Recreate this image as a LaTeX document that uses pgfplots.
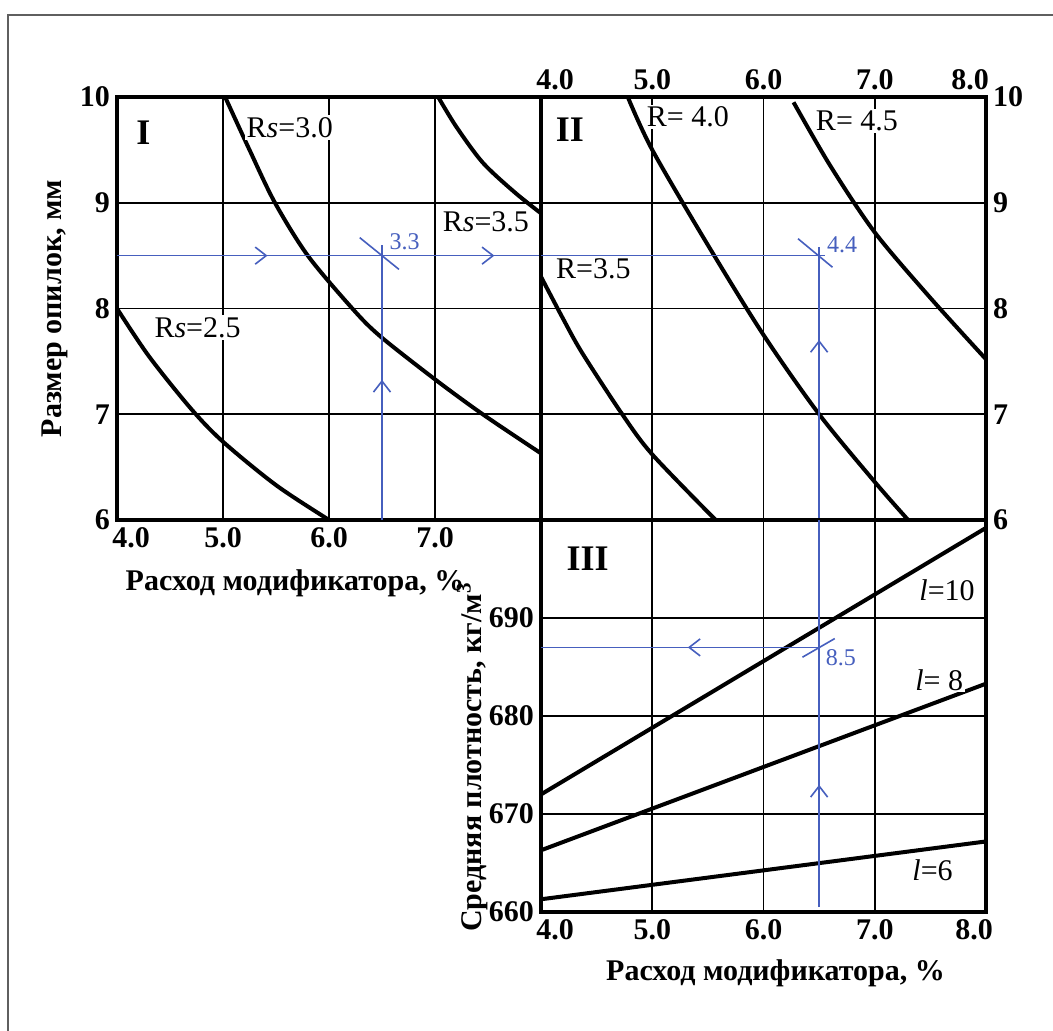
\documentclass[border=0pt]{standalone}
\usepackage{pgfplots}
\pgfplotsset{compat=1.18}
\usepackage{fontspec}
\setmainfont{Liberation Serif}
\usetikzlibrary{decorations.markings,arrows.meta}

\definecolor{nblue}{RGB}{70,95,190}
\definecolor{fgray}{RGB}{95,95,95}

\newcommand\tickf{\fontsize{15}{17}\selectfont\bfseries}
\newcommand\labf{\fontsize{15}{17}\selectfont\bfseries}
\newcommand\curvf{\fontsize{15}{17}\selectfont}
\newcommand\romf{\fontsize{18}{20}\selectfont\bfseries}
\newcommand\bluef{\fontsize{12}{14}\selectfont}

\tikzset{
  lab/.style={font=\curvf, fill=white, inner sep=1pt},
  bl/.style={font=\bluef, text=nblue, inner sep=1pt},
}
\pgfplotsset{
  panel/.style={
    scale only axis, enlargelimits=false,
    axis line style={line width=2.4pt},
    grid=major, major grid style={black, line width=0.9pt},
    major tick length=0pt, tick style={draw=none},
    ticklabel style={font=\tickf},
  },
  curve/.style={black, line width=2pt, smooth, tension=0.5, no markers},
  guide/.style={nblue, line width=0.8pt, no markers},
  barb/.style={postaction={decorate}, decoration={markings, mark=at position #1 with {\arrow[nblue]{Straight Barb[length=5.5pt,width=8.5pt,line width=0.8pt]}}}},
  barbb/.style 2 args={postaction={decorate}, decoration={markings, mark=at position #1 with {\arrow[nblue]{Straight Barb[length=5.5pt,width=8.5pt,line width=0.8pt]}}, mark=at position #2 with {\arrow[nblue]{Straight Barb[length=5.5pt,width=8.5pt,line width=0.8pt]}}}},
}

\begin{document}
\begin{tikzpicture}
\path[use as bounding box] (0,0) rectangle (526.5pt,515pt);
\fill[white] (0,0) rectangle (526.5pt,515pt);
\draw[fgray, line width=0.8pt] (4pt,-1pt) -- (4pt,507.5pt) -- (528pt,507.5pt);

% ---------------- Panel I ----------------
\begin{axis}[panel, at={(58.5pt,255pt)}, anchor=south west, width=212pt, height=211.5pt,
  xmin=4, xmax=8, ymin=6, ymax=10,
  xtick={4,5,6,7,8}, xticklabels={\hspace*{14pt}4.0,5.0,6.0,7.0,{}},
  ytick={6,7,8,9,10}, yticklabels={6,7,8,9,10},
  xlabel={Расход модификатора, \%}, ylabel={Размер опилок, мм},
  xlabel style={at={(axis description cs:0.42,-0.149)}, anchor=center, font=\labf},
  ylabel style={at={(axis description cs:-0.146,0.5)}, anchor=center, font=\labf},
]
\addplot[curve] coordinates {(4.0,8.0) (4.3,7.55) (4.7,7.05) (5.0,6.74) (5.5,6.33) (6.0,6.0) (6.05,5.97)};
\addplot[curve] coordinates {(5.02,10.0) (5.25,9.5) (5.49,9.0) (5.8,8.5) (6.22,8.0) (6.48,7.74) (7.0,7.33) (7.45,7.0) (8.0,6.63)};
\addplot[curve] coordinates {(7.03,10.0) (7.2,9.72) (7.45,9.38) (7.75,9.1) (8.0,8.9)};
% guide lines
\addplot[guide, barbb={0.355}{0.89}] coordinates {(4.0,8.5) (8.0,8.5)};
\addplot[guide, barb=0.51] coordinates {(6.5,6.0) (6.5,8.6)};
\addplot[guide] coordinates {(6.29,8.67) (6.66,8.37)};
\node[font=\romf] at (axis cs:4.25,9.66) {I};
\node[lab] at (axis cs:5.63,9.71) {R\textit{s}=3.0};
\node[lab] at (axis cs:7.48,8.82) {R\textit{s}=3.5};
\node[lab] at (axis cs:4.76,7.82) {R\textit{s}=2.5};
\node[bl, anchor=west] at (axis cs:6.55,8.63) {3.3};
\node[bl, anchor=east] at (axis cs:3.93,8.5) {8.5};
\node[bl, anchor=north] at (axis cs:6.5,5.91) {6.5};
\end{axis}

% ---------------- Panel II ----------------
\begin{axis}[panel, at={(270.5pt,255pt)}, anchor=south west, width=222.5pt, height=211.5pt,
  xmin=4, xmax=8, ymin=6, ymax=10,
  xtick={4,5,6,7,8}, xticklabels={\hspace*{14pt}4.0,5.0,6.0,7.0,8.0\hspace*{16pt}},
  ytick={6,7,8,9,10}, yticklabels={6,7,8,9,10},
  xticklabel pos=top, yticklabel pos=right,
]
\addplot[curve] coordinates {(4.0,8.3) (4.2,7.9) (4.37,7.58) (4.73,7.0) (5.0,6.62) (5.57,6.0)};
\addplot[curve] coordinates {(4.78,10.0) (5.0,9.5) (5.5,8.6) (6.0,7.75) (6.5,7.0) (7.0,6.36) (7.3,6.0)};
\addplot[curve] coordinates {(6.27,9.95) (6.6,9.35) (7.0,8.72) (7.5,8.1) (8.0,7.52)};
\addplot[guide] coordinates {(4.0,8.5) (6.55,8.5)};
\addplot[guide, barb=0.66] coordinates {(6.5,6.0) (6.5,8.58)};
\addplot[guide] coordinates {(6.31,8.66) (6.62,8.39)};
\node[font=\romf] at (axis cs:4.26,9.69) {II};
\node[lab] at (axis cs:5.32,9.81) {R= 4.0};
\node[lab] at (axis cs:6.84,9.77) {R= 4.5};
\node[lab] at (axis cs:4.47,8.38) {R=3.5};
\node[bl, anchor=west] at (axis cs:6.55,8.6) {4.4};
\end{axis}

% ---------------- Panel III ----------------
\begin{axis}[panel, at={(270.5pt,59pt)}, anchor=south west, width=222.5pt, height=196pt,
  xmin=4, xmax=8, ymin=660, ymax=700,
  xtick={4,5,6,7,8}, xticklabels={\hspace*{14pt}4.0,5.0,6.0,7.0,8.0\hspace*{12pt}},
  ytick={660,670,680,690}, yticklabels={660,670,680,690},
  xlabel={Расход модификатора, \%}, ylabel={Средняя плотность, кг/м\textsuperscript{3}},
  xlabel style={at={(axis description cs:0.527,-0.156)}, anchor=center, font=\labf},
  ylabel style={at={(axis description cs:-0.155,0.395)}, anchor=center, font=\labf},
]
\addplot[curve] coordinates {(4,672.0) (8,699.2)};
\addplot[curve] coordinates {(4,666.3) (8,683.3)};
\addplot[curve] coordinates {(4,661.3) (8,667.2)};
\addplot[guide, barb=0.472] coordinates {(6.5,687) (4.0,687)};
\addplot[guide, barb=0.316] coordinates {(6.5,660.5) (6.5,700)};
\addplot[guide] coordinates {(6.35,686.0) (6.64,687.9)};
\node[font=\romf] at (axis cs:4.42,696.1) {III};
\node[lab] at (axis cs:7.65,692.8) {\textit{l}=10};
\node[lab] at (axis cs:7.58,683.7) {\textit{l}= 8};
\node[lab] at (axis cs:7.52,664.3) {\textit{l}=6};
\node[bl, anchor=west] at (axis cs:6.54,686.0) {8.5};
\node[bl, anchor=east] at (axis cs:3.93,687) {687};
\node[bl, anchor=north] at (axis cs:6.5,659.1) {6.5};
\end{axis}
\end{tikzpicture}
\end{document}
